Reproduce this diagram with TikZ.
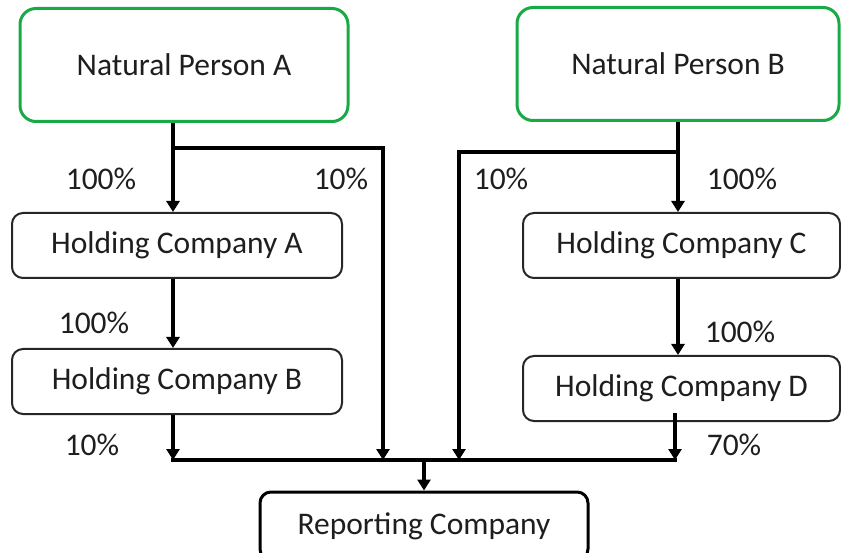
\documentclass[tikz,border=0pt]{standalone}
\usepackage{fontspec}
\setmainfont{Carlito}
\usetikzlibrary{arrows.meta}
\definecolor{persongreen}{RGB}{25,170,70}
\definecolor{txt}{RGB}{30,30,30}
\begin{document}
\begin{tikzpicture}[x=1pt,y=-1pt,
  every node/.style={font=\fontsize{31.5}{38}\selectfont, text=txt},
  person/.style={draw=persongreen, line width=3pt, rounded corners=16pt, minimum width=#1, minimum height=113pt},
  company/.style={draw=black!85, line width=2pt, rounded corners=11pt, minimum width=#1, minimum height=65pt},
  report/.style={draw=black, line width=3pt, rounded corners=11pt, minimum width=328pt, minimum height=68pt},
  pct/.style={inner sep=0pt},
  link/.style={line width=3.5pt, black},
  arr/.style={link, -{Triangle[length=11pt,width=13pt]}}
]
\useasboundingbox (0,0) rectangle (841,553);

% owners
\node[person=328pt] (npa) at (184,65) {Natural Person A};
\node[person=322pt] (npb) at (678,64) {Natural Person B};

% holding chain A/B
\node[company=330pt] (hca) at (177,245.5) {Holding Company A};
\node[company=330pt] (hcb) at (177,381.5) {Holding Company B};

% holding chain C/D
\node[company=317pt] (hcc) at (681.5,245.5) {Holding Company C};
\node[company=317pt] (hcd) at (681.5,388.5) {Holding Company D};

% target
\node[report] (rc) at (424,526) {Reporting Company};

% vertical rails and junctions
\coordinate (xa) at (173,0);
\coordinate (xb) at (678,0);
\coordinate (xd) at (675,0);
\coordinate (ja) at (173,148);
\coordinate (jb) at (678,152);
\coordinate (busA) at (173,460);
\coordinate (busM1) at (383,460);
\coordinate (busM2) at (459,460);
\coordinate (busC) at (424,460);
\coordinate (busD) at (675,460);

% ownership links
\draw[arr] (npa.south -| xa) -- (hca.north -| xa);
\draw[arr] (hca.south -| xa) -- (hcb.north -| xa);
\draw[arr] (hcb.south -| xa) -- (busA);
\draw[arr] (ja) -| (busM1);

\draw[arr] (npb.south -| xb) -- (hcc.north -| xb);
\draw[arr] (hcc.south -| xb) -- (hcd.north -| xb);
\draw[arr] ([yshift=9pt]hcd.south -| xd) -- (busD);
\draw[arr] (jb) -| (busM2);

\draw[link] ([xshift=-1.75pt]busA) -- ([xshift=1.75pt]busD);
\draw[arr] (busC) -- (rc.north);

% percentages
\node[pct] (p1) at (101,179) {100\%};
\node[pct] (p2) at (341,179) {10\%};
\node[pct] (p3) at (501,179) {10\%};
\node[pct] (p4) at (742,179) {100\%};
\node[pct] (p5) at (94,323) {100\%};
\node[pct] (p6) at (92,445) {10\%};
\node[pct] (p7) at (740,332) {100\%};
\node[pct] (p8) at (734,445) {70\%};
\end{tikzpicture}
\end{document}
